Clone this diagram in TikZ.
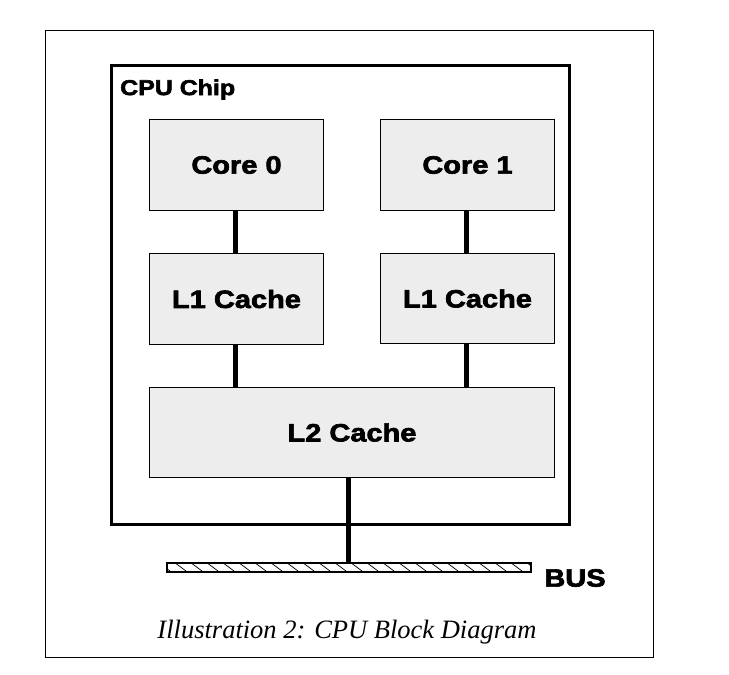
\documentclass[tikz,border=0pt]{standalone}
\usepackage{fontspec}
\setmainfont{Liberation Serif}
\newfontfamily\boxfont[FakeStretch=1.16,FakeBold=2.6]{Liberation Sans}
\begin{document}
\begin{tikzpicture}[x=1pt,y=-1pt,
  blk/.style={draw=black, line width=1pt, fill=black!7, inner sep=0pt, font=\boxfont\bfseries\fontsize{25}{28}\selectfont},
  link/.style={line width=5pt}]
\useasboundingbox (0,0) rectangle (729,675);
\node[draw, line width=0.8pt, minimum width=608pt, minimum height=627pt, anchor=north west, inner sep=0pt] (frame) at (45,30) {};
\node[draw, line width=2.6pt, minimum width=458pt, minimum height=459pt, anchor=north west, inner sep=0pt] (chip) at (110,64) {};
\node[anchor=west, font=\boxfont\bfseries\fontsize{21.5}{24}\selectfont, inner sep=0pt] (chiplbl) at (120,89.5) {CPU Chip};
\node[blk, minimum width=174pt, minimum height=91pt, anchor=north west] (core0) at (149,119) {Core 0};
\node[blk, minimum width=174pt, minimum height=91pt, anchor=north west] (core1) at (380,119) {Core 1};
\node[blk, minimum width=174pt, minimum height=91pt, anchor=north west] (l1a) at (149,253) {L1 Cache};
\node[blk, minimum width=174pt, minimum height=90pt, anchor=north west] (l1b) at (380,253) {L1 Cache};
\node[blk, minimum width=405pt, minimum height=90pt, anchor=north west] (l2) at (149,387) {L2 Cache};
\coordinate (bustop) at (348,562);
\draw[link] (core0.south -| 235,0) -- (l1a.north -| 235,0);
\draw[link] (core1.south -| 466,0) -- (l1b.north -| 466,0);
\draw[link] (l1a.south -| 235,0) -- (l2.north -| 235,0);
\draw[link] (l1b.south -| 466,0) -- (l2.north -| 466,0);
\draw[link] (l2.south -| 348,0) -- (bustop);
% bus
\begin{scope}
\clip (166,562) rectangle (530,571);
\foreach \x in {158,174,...,540} \draw[line width=0.7pt] (\x,562) -- (\x+12,571);
\end{scope}
\node[draw, line width=1.8pt, minimum width=364pt, minimum height=9pt, anchor=north west, inner sep=0pt] (bus) at (166,562) {};
\node[font=\boxfont\bfseries\fontsize{25}{28}\selectfont, inner sep=0pt] (buslbl) at (575,578) {BUS};
\node[font=\itshape\fontsize{26.5}{30}\selectfont, inner sep=0pt] (caption) at (347,632) {Illustration 2: CPU Block Diagram};
\end{tikzpicture}
\end{document}
